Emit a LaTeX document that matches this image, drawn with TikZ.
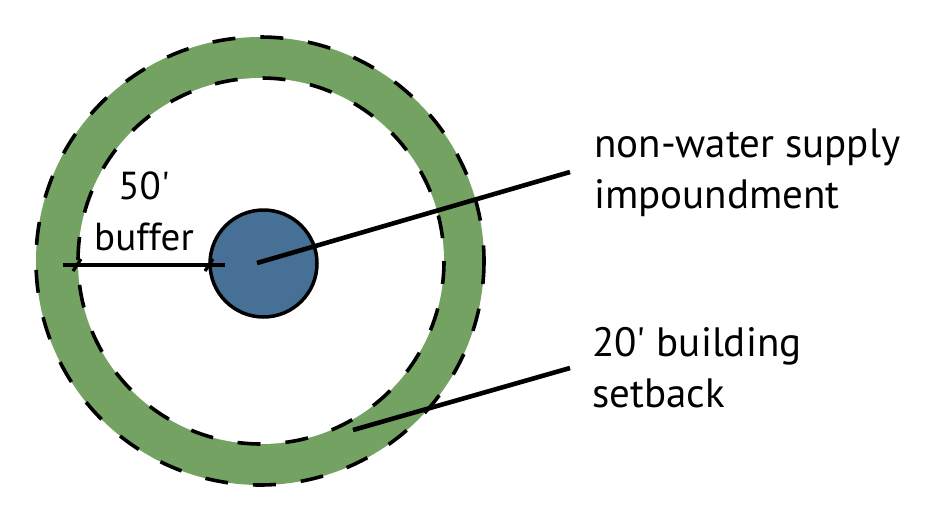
\documentclass[tikz,border=0pt]{standalone}
\usepackage{fontspec}
\setmainfont{PT Sans}
\definecolor{ringgreen}{RGB}{116,162,98}
\definecolor{pondblue}{RGB}{70,112,149}
\begin{document}
\begin{tikzpicture}[x=1pt,y=-1pt,
  dashring/.style={draw=black,line width=3.6pt,dash pattern=on 23pt off 25pt},
  leader/.style={draw=black,line width=4.6pt},
  tickmark/.style={draw=black,line width=3.2pt},
  biglabel/.style={font=\fontsize{41}{51}\selectfont,align=left,inner sep=0pt,anchor=base west},
  smalllabel/.style={font=\fontsize{39}{51}\selectfont,align=center,inner sep=0pt,anchor=base}]
\useasboundingbox (0,0) rectangle (932,517);
% rings
\node[circle,fill=ringgreen,minimum size=448pt,inner sep=0pt] (outer) at (260,261) {};
\node[circle,fill=white,minimum size=366pt,inner sep=0pt] (inner) at (261,261) {};
\draw[dashring] (outer.center) circle[radius=224];
\draw[dashring] (inner.center) circle[radius=183];
% pond
\node[circle,draw=black,line width=3.5pt,fill=pondblue,minimum size=107pt,inner sep=0pt] (pond) at (263.5,263.5) {};
% buffer dimension
\coordinate (bufL) at (63,265);
\coordinate (bufR) at (225,265);
\draw[leader] (bufL) -- (bufR);
\coordinate (tickL) at (77,265);
\coordinate (tickR) at (209,265);
\draw[tickmark] ([shift={(-4,6)}]tickL) -- ([shift={(4,-6)}]tickL);
\draw[tickmark] ([shift={(-4,6)}]tickR) -- ([shift={(4,-6)}]tickR);
\node[smalllabel] (buf) at (144,250) {50\textquotesingle\\buffer};
% leaders
\coordinate (pondC) at (257,263);
\coordinate (pondEnd) at (570,172);
\draw[leader] (pondC) -- (pondEnd);
\coordinate (setStart) at (353,430);
\coordinate (setEnd) at (570,368);
\draw[leader] (setStart) -- (setEnd);
% labels
\node[biglabel] (pondlbl) at (594,208) {non-water supply\\impoundment};
\node[biglabel] (setlbl) at (592,407) {20\textquotesingle\ building\\setback};
\end{tikzpicture}
\end{document}
